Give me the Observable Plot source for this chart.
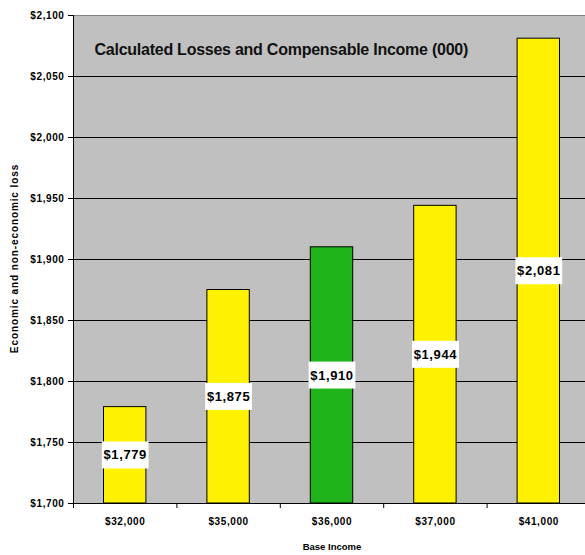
<!DOCTYPE html>
<html>
<head>
<meta charset="utf-8">
<script src="https://cdn.jsdelivr.net/npm/d3@7"></script>
<script src="https://cdn.jsdelivr.net/npm/@observablehq/plot@0.6"></script>
<style>
  html, body { margin: 0; padding: 0; background: #fff; overflow: hidden; }
  #chart { width: 585px; height: 555px; overflow: hidden; }
  svg { font-family: "Liberation Sans", Arial, sans-serif; }
</style>
</head>
<body>
<div id="chart"></div>
<script>
const categories = ["$32,000", "$35,000", "$36,000", "$37,000", "$41,000"];
const losses = [1779, 1875, 1910, 1944, 2081];
const highlight = [false, false, true, false, false];
const yTicks = [1700, 1750, 1800, 1850, 1900, 1950, 2000, 2050, 2100];
const title = "Calculated Losses and Compensable Income (000)";
const yLabel = "Economic and non-economic loss";
const xLabel = "Base Income";

const baseline = 1700;
const half = 0.205;
const data = categories.map((c, i) => ({i, c, v: losses[i], hi: highlight[i]}));
const fmt = d => "$" + d3.format(",")(d);

const plot = Plot.plot({
  width: 590,
  height: 555,
  marginLeft: 73,
  marginRight: 0,
  marginTop: 15,
  marginBottom: 52,
  style: {background: "transparent", overflow: "visible", maxWidth: "none"},
  x: {type: "linear", domain: [-0.5, 4.5], axis: null},
  y: {domain: [1700, 2100], axis: null},
  marks: [
    Plot.frame({fill: "#c0c0c0", stroke: null}),
    Plot.ruleY(yTicks.filter(t => t > 1700 && t < 2100), {stroke: "#000", strokeWidth: 1}),
    Plot.ruleY([2100], {stroke: "#808080", strokeWidth: 1}),
    Plot.rect(data, {
      x1: d => d.i - half, x2: d => d.i + half,
      y1: baseline, y2: "v",
      fill: d => d.hi ? "#1fb41a" : "#fff200",
      stroke: "#000", strokeWidth: 1
    }),
    Plot.ruleY([1700], {stroke: "#000", strokeWidth: 1}),
    Plot.ruleX([-0.5], {stroke: "#000", strokeWidth: 1}),
    // y axis
    Plot.axisY({
      ticks: yTicks, tickSize: 5, tickPadding: 4,
      tickFormat: fmt, label: null,
      fontWeight: "bold", fontSize: 10, stroke: "#000"
    }),
    // x boundary ticks
    Plot.axisX({
      ticks: d3.range(-0.5, 5, 1), tickSize: 5, tickFormat: () => "", label: null, stroke: "#000"
    }),
    // x labels
    Plot.axisX({
      ticks: d3.range(0, 5), tickSize: 0, tickPadding: 14,
      tickFormat: i => categories[i], label: null,
      fontWeight: "bold", fontSize: 10
    }),
    // value labels
    Plot.text(data, {
      x: "i", y: d => (baseline + d.v) / 2, text: d => fmt(d.v),
      fontWeight: "bold", fontSize: 13, fill: "#000",
      className: "vlabel"
    }),
    Plot.text([title], {
      frameAnchor: "top-left", dx: 21, dy: 34, text: d => d,
      fontWeight: "bold", fontSize: 16, textAnchor: "start", lineAnchor: "middle", fill: "#111",
      className: "title"
    }),
    Plot.text([xLabel], {
      frameAnchor: "bottom", dy: 43, text: d => d,
      fontWeight: "bold", fontSize: 9.5, textAnchor: "middle", lineAnchor: "middle", fill: "#000"
    }),
    Plot.text([yLabel], {
      frameAnchor: "left", dx: -59, dy: -1, rotate: -90, text: d => d,
      fontWeight: "bold", fontSize: 10, textAnchor: "middle", lineAnchor: "middle", fill: "#000",
      className: "ylabel"
    })
  ]
});

document.getElementById("chart").appendChild(plot);

// letter spacing
d3.select(plot).selectAll("g[aria-label='y-axis tick label'] text, g[aria-label='x-axis tick label'] text")
  .style("letter-spacing", "0.6px");
d3.select(plot).selectAll("g.vlabel text").style("letter-spacing", "0.6px");
d3.select(plot).selectAll("g.title text").style("letter-spacing", "-0.25px");
d3.select(plot).selectAll("g.ylabel text").style("letter-spacing", "0.9px");

// white boxes behind value labels
d3.select(plot).selectAll("g.vlabel text").each(function() {
  const b = this.getBBox();
  const padX = 2, boxH = 27;
  d3.select(this.parentNode).insert("rect", () => this)
    .attr("transform", this.getAttribute("transform"))
    .attr("x", b.x - padX + 0.3).attr("y", b.y + b.height / 2 - boxH / 2)
    .attr("width", b.width + 2 * padX - 0.6).attr("height", boxH)
    .attr("fill", "#fff");
});
</script>
</body>
</html>
